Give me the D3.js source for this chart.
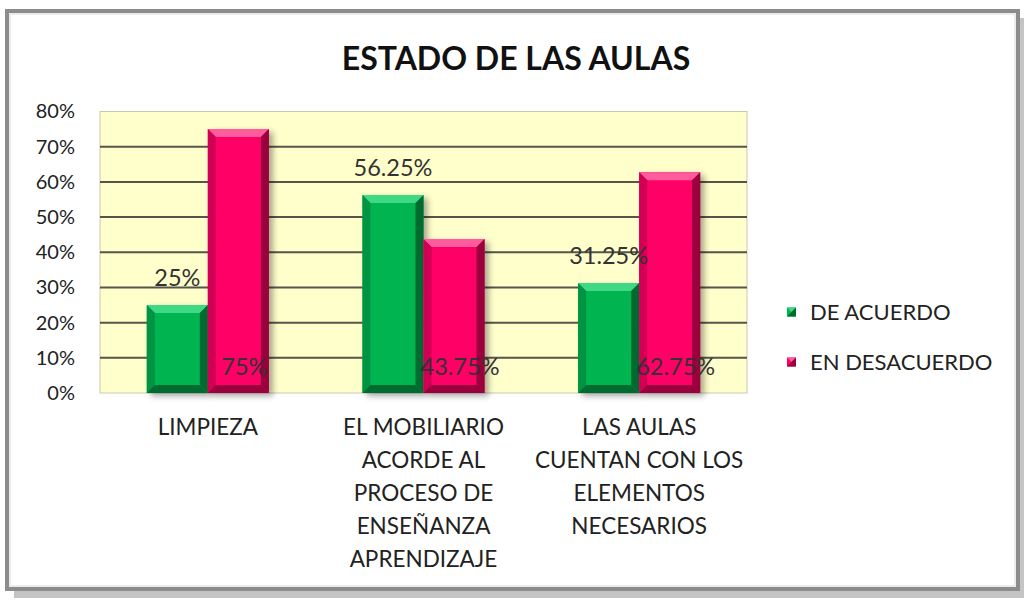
<!DOCTYPE html>
<html><head><meta charset="utf-8">
<script src="https://cdn.jsdelivr.net/npm/d3@7"></script>
<style>body{margin:0;background:#fff}svg{display:block}text{font-family:Lato,"Open Sans",sans-serif}</style>
</head><body><svg id="c" width="1026" height="601"></svg>
<script>
const title = "ESTADO DE LAS AULAS";
const categories = ["LIMPIEZA", "EL MOBILIARIO ACORDE AL PROCESO DE ENSEÑANZA APRENDIZAJE", "LAS AULAS CUENTAN CON LOS ELEMENTOS NECESARIOS"];
const categoryLines = [["LIMPIEZA"], ["EL MOBILIARIO","ACORDE AL","PROCESO DE","ENSEÑANZA","APRENDIZAJE"], ["LAS AULAS","CUENTAN CON LOS","ELEMENTOS","NECESARIOS"]];
const seriesNames = ["DE ACUERDO", "EN DESACUERDO"];
const deAcuerdo = [0.25, 0.5625, 0.3125];
const enDesacuerdo = [0.75, 0.4375, 0.6275];
const labelsDeAcuerdo = ["25%", "56.25%", "31.25%"];
const labelsEnDesacuerdo = ["75%", "43.75%", "62.75%"];
const yTicks = [0, 0.1, 0.2, 0.3, 0.4, 0.5, 0.6, 0.7, 0.8];

const colors = {
  "DE ACUERDO": {base:"#00b44f", light:"#3fd884", dark:"#006b30", mid:"#009442"},
  "EN DESACUERDO": {base:"#ff0066", light:"#ff5c9d", dark:"#99003d", mid:"#d10054"}
};

const svg = d3.select("#c");
const defs = svg.append("defs");
const f = defs.append("filter").attr("id","sh").attr("x","-20%").attr("y","-20%").attr("width","160%").attr("height","140%");
f.append("feGaussianBlur").attr("stdDeviation",3);

// frame
svg.append("rect").attr("x",14).attr("y",18).attr("width",1010).attr("height",580).attr("fill","#c4c4c4");
svg.append("rect").attr("x",7).attr("y",11).attr("width",1011).attr("height",578).attr("fill","#fff").attr("stroke","#8c8c8c").attr("stroke-width",4);
svg.append("rect").attr("x",10).attr("y",14).attr("width",1005).attr("height",572).attr("fill","none").attr("stroke","#d8d8d8").attr("stroke-width",1);

svg.append("text").attr("x",516).attr("y",70).attr("text-anchor","middle")
  .attr("font-size",32).attr("font-weight","bold").attr("fill","#111").text(title);

const pL = 100, pR = 747, pT = 111.5, pB = 393;
const y = d3.scaleLinear().domain([0,0.8]).range([pB, pT]);
const x0 = d3.scaleBand().domain(categories).range([pL,pR]).paddingInner(0.434).paddingOuter(0.217);
const x1 = d3.scaleBand().domain(seriesNames).range([0, x0.bandwidth()]);

// plot area
svg.append("rect").attr("x",pL).attr("y",pT).attr("width",pR-pL).attr("height",pB-pT)
  .attr("fill","#ffffcc").attr("stroke","#c8c8b0").attr("stroke-width",1);

// gridlines
svg.append("g").selectAll("line").data(yTicks.filter(t => t > 0 && t < 0.8)).join("line")
  .attr("x1",pL).attr("x2",pR).attr("y1",d=>y(d)).attr("y2",d=>y(d))
  .attr("stroke","#55554a").attr("stroke-width",2);

// y axis
const yAxis = d3.axisLeft(y).tickValues(yTicks).tickFormat(d3.format(".0%")).tickSize(0).tickPadding(25);
const ga = svg.append("g").attr("transform",`translate(${pL},0)`).call(yAxis);
ga.select(".domain").remove();
ga.selectAll("text").attr("font-size",20).attr("fill","#222").attr("font-family","Lato,sans-serif");

// bars
const rows = categories.map((c,i)=>({cat:c, vals:[{s:seriesNames[0], v:deAcuerdo[i], lab:labelsDeAcuerdo[i]},{s:seriesNames[1], v:enDesacuerdo[i], lab:labelsEnDesacuerdo[i]}]}));
const bevel = 8;
function drawBar(g, bx, by, bw, bh, c){
  g.append("rect").attr("x",bx+4).attr("y",by+3).attr("width",bw).attr("height",bh).attr("fill","#000").attr("opacity",0.35).attr("filter","url(#sh)");
  g.append("rect").attr("x",bx).attr("y",by).attr("width",bw).attr("height",bh).attr("fill",c.base);
  const b = Math.min(bevel, bh/2);
  const x2 = bx+bw, y2 = by+bh;
  const poly = (pts,fill)=>g.append("polygon").attr("points",pts.map(p=>p.join(",")).join(" ")).attr("fill",fill);
  poly([[bx,by],[x2,by],[x2-b,by+b],[bx+b,by+b]], c.light);
  poly([[bx,by],[bx+b,by+b],[bx+b,y2-b],[bx,y2]], c.mid);
  poly([[x2,by],[x2,y2],[x2-b,y2-b],[x2-b,by+b]], c.dark);
  poly([[bx,y2],[bx+b,y2-b],[x2-b,y2-b],[x2,y2]], c.dark);
}
const gb = svg.append("g");
rows.forEach(r=>{
  r.vals.forEach(d=>{
    const bx = x0(r.cat)+x1(d.s);
    drawBar(gb, bx, y(d.v), x1.bandwidth(), y(0)-y(d.v), colors[d.s]);
  });
});
// data labels
rows.forEach(r=>{
  const g0 = r.vals[0], g1 = r.vals[1];
  svg.append("text").attr("x",x0(r.cat)+x1(g0.s)+x1.bandwidth()/2).attr("y",y(g0.v)-27).attr("dy","0.35em")
    .attr("text-anchor","middle").attr("font-size",23.5).attr("fill","#333").text(g0.lab);
  svg.append("text").attr("x",x0(r.cat)+x1(g1.s)+x1.bandwidth()/2+6).attr("y",y(0)-26).attr("dy","0.35em")
    .attr("text-anchor","middle").attr("font-size",23.5).attr("fill","#333").text(g1.lab);
});

// category labels
categories.forEach((c,i)=>{
  const t = svg.append("text").attr("x",x0(c)+x0.bandwidth()/2).attr("y",427).attr("text-anchor","middle")
    .attr("font-size",22.5).attr("fill","#222");
  categoryLines[i].forEach((ln,j)=>{
    t.append("tspan").attr("x",x0(c)+x0.bandwidth()/2).attr("y",427+j*33).attr("dy","0.35em").text(ln);
  });
});

// legend
const lg = svg.append("g");
seriesNames.forEach((s,i)=>{
  const yy = 312 + i*50;
  const c = colors[s];
  const sx = 787, sz = 9;
  lg.append("rect").attr("x",sx).attr("y",yy-sz/2).attr("width",sz).attr("height",sz).attr("fill",c.base);
  lg.append("polygon").attr("points",`${sx},${yy-sz/2} ${sx+sz},${yy-sz/2} ${sx+sz/2},${yy}`).attr("fill",c.light);
  lg.append("polygon").attr("points",`${sx+sz},${yy-sz/2} ${sx+sz},${yy+sz/2} ${sx+sz/2},${yy}`).attr("fill",c.dark);
  lg.append("polygon").attr("points",`${sx},${yy+sz/2} ${sx+sz},${yy+sz/2} ${sx+sz/2},${yy}`).attr("fill",c.dark);
  lg.append("text").attr("x",810).attr("y",yy).attr("dy","0.35em").attr("font-size",22).attr("fill","#222").text(s);
});
</script></body></html>
